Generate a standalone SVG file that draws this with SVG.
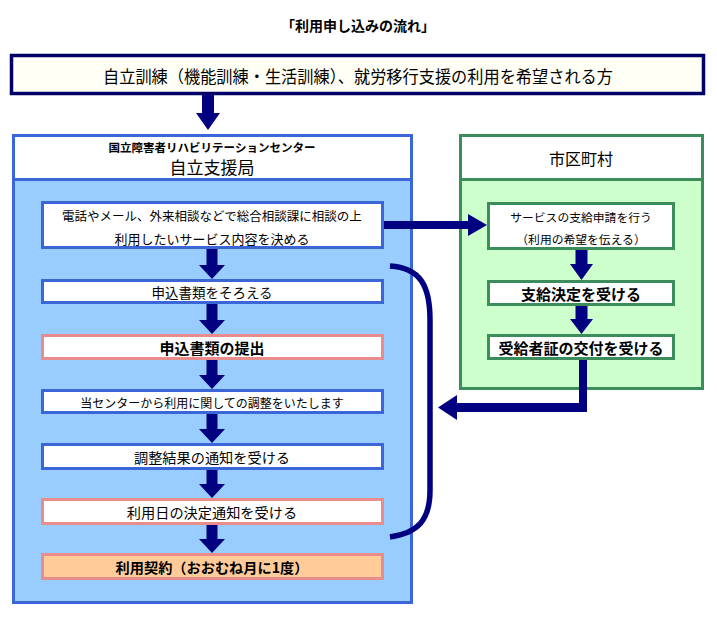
<svg xmlns="http://www.w3.org/2000/svg" width="717" height="624" viewBox="0 0 717 624">
<style>
text{font-family:"Noto Sans CJK JP","Noto Sans CJK SC",sans-serif;fill:#000;text-anchor:middle;dominant-baseline:central}
.b{font-weight:bold}
.pb{fill:#fff;stroke:#3A66D8;stroke-width:3}
.pk{fill:#fff;stroke:#E88C8C;stroke-width:3}
.gb{fill:#fff;stroke:#3C8C5C;stroke-width:3}
.arr{fill:#000080}
</style>
<rect width="717" height="624" fill="#fff"/>
<text x="358" y="25" font-size="14" class="b">「利用申し込みの流れ」</text>

<g id="applicant">
<rect x="11.5" y="55.5" width="692" height="38" fill="#FFFFF6" stroke="#000066" stroke-width="3.5"/>
<text x="358" y="75" font-size="17" textLength="510" lengthAdjust="spacingAndGlyphs">自立訓練（機能訓練・生活訓練）、就労移行支援の利用を希望される方</text>
</g>

<g id="center-panel">
<rect x="13.5" y="135.5" width="398" height="44" fill="#fff" stroke="#3A66D8" stroke-width="3"/>
<rect x="13.5" y="179.5" width="398" height="423" fill="#99CCFF" stroke="#3A66D8" stroke-width="3"/>
<text x="212" y="147" font-size="11.5" class="b">国立障害者リハビリテーションセンター</text>
<text x="212" y="166" font-size="17">自立支援局</text>
</g>

<g id="city-panel">
<rect x="460.5" y="135.5" width="242" height="44" fill="#fff" stroke="#3C8C5C" stroke-width="3"/>
<rect x="460.5" y="179.5" width="242" height="209" fill="#CCFFCC" stroke="#3C8C5C" stroke-width="3"/>
<text x="581" y="158" font-size="16">市区町村</text>
</g>

<g id="step1">
<rect class="pb" x="42.5" y="202.5" width="340" height="45"/>
<text x="212" y="215" font-size="12.5">電話やメール、外来相談などで総合相談課に相談の上</text>
<text x="212" y="238" font-size="13">利用したいサービス内容を決める</text>
</g>
<g id="step2">
<rect class="pb" x="42.5" y="280.5" width="340" height="22"/>
<text x="212" y="292" font-size="13.5">申込書類をそろえる</text>
</g>
<g id="step3">
<rect class="pk" x="42.5" y="335.5" width="340" height="23"/>
<text x="212" y="347" font-size="15" class="b">申込書類の提出</text>
</g>
<g id="step4">
<rect class="pb" x="42.5" y="390.5" width="340" height="22"/>
<text x="212" y="402" font-size="12">当センターから利用に関しての調整をいたします</text>
</g>
<g id="step5">
<rect class="pb" x="42.5" y="444.5" width="340" height="24"/>
<text x="212" y="457" font-size="14.2">調整結果の通知を受ける</text>
</g>
<g id="step6">
<rect class="pk" x="42.5" y="499.5" width="340" height="24"/>
<text x="212" y="512" font-size="14.2">利用日の決定通知を受ける</text>
</g>
<g id="step7">
<rect x="42.5" y="554.5" width="340" height="24" fill="#FFCC99" stroke="#E88C8C" stroke-width="3"/>
<text x="212" y="567" font-size="14.2" class="b">利用契約（おおむね月に1度）</text>
</g>

<g id="city1">
<rect class="gb" x="488.5" y="203.5" width="185" height="45"/>
<text x="581" y="216" font-size="11.8">サービスの支給申請を行う</text>
<text x="581" y="238" font-size="11.8">（利用の希望を伝える）</text>
</g>
<g id="city2">
<rect class="gb" x="488.5" y="281.5" width="185" height="23"/>
<text x="581" y="293" font-size="15" class="b">支給決定を受ける</text>
</g>
<g id="city3">
<rect class="gb" x="488.5" y="335.5" width="185" height="23"/>
<text x="581" y="347" font-size="15" class="b">受給者証の交付を受ける</text>
</g>

<g id="connectors">
<polygon class="arr" points="202,95 214,95 214,113 220,113 208,130 196,113 202,113"/>
<polygon class="arr" points="206.5,249 217.5,249 217.5,265 225,265 212,279 199,265 206.5,265"/>
<polygon class="arr" points="206.5,304 217.5,304 217.5,320 225,320 212,334 199,320 206.5,320"/>
<polygon class="arr" points="206.5,360 217.5,360 217.5,375 225,375 212,389 199,375 206.5,375"/>
<polygon class="arr" points="206.5,414 217.5,414 217.5,429 225,429 212,443 199,429 206.5,429"/>
<polygon class="arr" points="206.5,470 217.5,470 217.5,484 225,484 212,498 199,484 206.5,484"/>
<polygon class="arr" points="206.5,525 217.5,525 217.5,539 225,539 212,553 199,539 206.5,539"/>
<polygon class="arr" points="384,221 468,221 468,214 487,225 468,236 468,229 384,229"/>
<polygon class="arr" points="575.5,250 587.5,250 587.5,264 593,264 581.5,280 570,264 575.5,264"/>
<polygon class="arr" points="575.5,306 587.5,306 587.5,319 593,319 581.5,334 570,319 575.5,319"/>
<polygon class="arr" points="579,360 587,360 587,412 457,412 457,420 438,407.5 457,395 457,403 579,403"/>
<path d="M390,266 C420,268 430,285 430,320 L430,490 C430,520 418,533 390,537" fill="none" stroke="#000080" stroke-width="5.5"/>
</g>
</svg>
